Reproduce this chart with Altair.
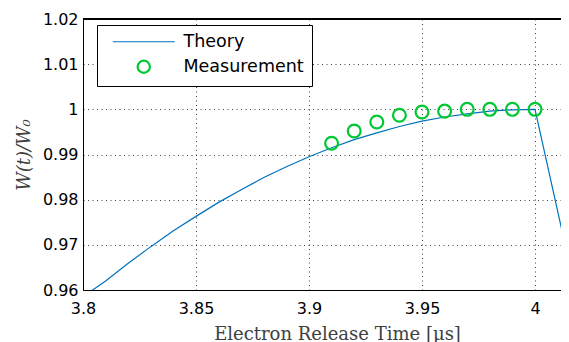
import altair as alt
import pandas as pd

theory_t = [3.80, 3.81, 3.82, 3.83, 3.84, 3.85, 3.86, 3.87, 3.88, 3.89, 3.90,
            3.91, 3.92, 3.93, 3.94, 3.95, 3.96, 3.97, 3.98, 3.99, 4.00, 4.02]
theory_w = [0.9585, 0.9620, 0.9659, 0.9696, 0.9731, 0.9763, 0.9794, 0.9822,
            0.9849, 0.9873, 0.9895, 0.9915, 0.9933, 0.9948, 0.9962, 0.9974,
            0.9983, 0.9990, 0.9996, 0.9999, 1.0000, 0.9550]
meas_t = [3.91, 3.92, 3.93, 3.94, 3.95, 3.96, 3.97, 3.98, 3.99, 4.00]
meas_w = [0.9925, 0.9952, 0.9972, 0.9987, 0.9994, 0.9996, 1.0000, 1.0000, 1.0000, 1.0000]
series = ["Theory", "Measurement"]
series_colors = ["#0072BD", "#00C832"]
x_ticks = [3.8, 3.85, 3.9, 3.95, 4.0]
y_ticks = [0.96, 0.97, 0.98, 0.99, 1.00, 1.01, 1.02]

theory = pd.DataFrame({"t": theory_t, "w": theory_w, "series": "Theory"})
meas = pd.DataFrame({"t": meas_t, "w": meas_w, "series": "Measurement"})

xs = alt.Scale(domain=[3.8, 4.0115], nice=False, zero=False)
ys = alt.Scale(domain=[0.96, 1.02], nice=False, zero=False)

xax = alt.Axis(values=x_ticks, format="~g", title="Electron Release Time [μs]",
               labelPadding=10, titlePadding=9, titleX=254, labelFlush=False,
               titleFont="DejaVu Serif", titleFontSize=18)
yax = alt.Axis(values=y_ticks, format="~g", title="W(t)/W₀", titleFontStyle="italic",
               labelPadding=5, titlePadding=9, labelFlush=False,
               titleFont="DejaVu Serif", titleFontSize=18)

line = alt.Chart(theory).mark_line(clip=True, strokeWidth=1.2, color="#0072BD").encode(
    x=alt.X("t:Q", scale=xs, axis=xax),
    y=alt.Y("w:Q", scale=ys, axis=yax),
)

pts = alt.Chart(meas).mark_point(filled=False, clip=False, opacity=1, size=165).encode(
    x=alt.X("t:Q", scale=xs),
    y=alt.Y("w:Q", scale=ys),
    color=alt.Color("series:N", scale=alt.Scale(domain=series, range=series_colors),
                    legend=alt.Legend(title=None, orient="none", legendX=14, legendY=6,
                                      symbolSize=150, symbolOpacity=1)),
    shape=alt.Shape("series:N", scale=alt.Scale(domain=series, range=["M-5.06,0H5.06", "circle"])),
    strokeWidth=alt.StrokeWidth("series:N", scale=alt.Scale(domain=series, range=[1.2, 2.2])),
)

top = alt.Chart(theory).mark_rule(color="black", strokeWidth=1).encode(y=alt.value(0))

chart = alt.layer(line, pts, top).properties(
    width=478, height=271,
    autosize=alt.AutoSizeParams(type="none"),
    padding={"left": 75, "top": 11, "right": 0, "bottom": 52},
).configure_view(stroke=None).configure_axis(
    grid=True, gridColor="black", gridDash=[1, 3.5], gridOpacity=0.75, gridWidth=1,
    ticks=False, domainColor="black", domainWidth=1,
    labelFont="DejaVu Sans", labelFontSize=16, labelColor="black",
    titleFontWeight="normal", titleColor="#404040",
).configure_legend(
    strokeColor="black", fillColor="white", padding=8, symbolOffset=30,
    labelFont="DejaVu Sans", labelFontSize=17.5, labelColor="black",
    labelOffset=31, rowPadding=5, cornerRadius=0,
)

chart.save("out.html", embed_options={"renderer": "svg", "actions": False})
